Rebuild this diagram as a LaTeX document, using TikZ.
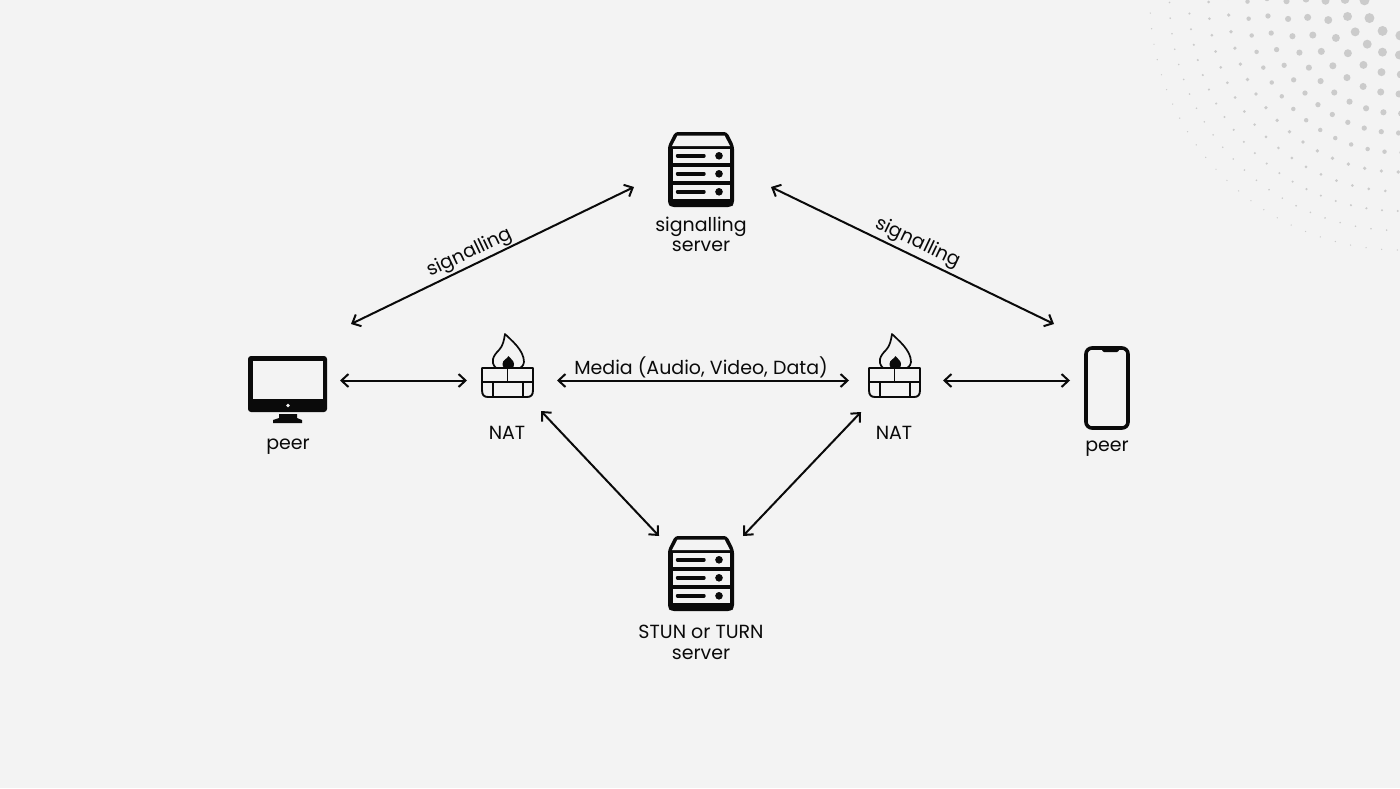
\documentclass[tikz,border=0pt]{standalone}
\usepackage{fontspec}
\setmainfont{Poppins}
\usetikzlibrary{arrows.meta}
\definecolor{bgc}{HTML}{F3F3F3}
\definecolor{dotc}{HTML}{CBCBCB}
\definecolor{inkc}{HTML}{0A0A0A}
\tikzset{
  x=1pt,y=-1pt,
  conn/.style={draw=inkc,line width=2pt,{Straight Barb[length=7pt,width=13pt,line width=2pt]}-{Straight Barb[length=7pt,width=13pt,line width=2pt]}},
  lab/.style={text=inkc,font=\fontsize{19}{21}\selectfont,inner sep=0pt,anchor=base},
  rlab/.style={text=inkc,font=\fontsize{19}{21}\selectfont,inner sep=0pt,anchor=center},
  server/.pic={
    \fill[inkc,rounded corners=3pt] (-26,-38) -- (26,-38) -- (33,-24) -- (33,34) -- (30,37) -- (-30,37) -- (-33,34) -- (-33,-24) -- cycle;
    \fill[bgc] (-23.5,-34.5) -- (23.5,-34.5) -- (29,-24) -- (-29,-24) -- cycle;
    \foreach \yy in {-21,-3,15}{
      \fill[bgc] (-28.5,\yy) rectangle (28.5,\yy+13.5);
      \draw[inkc,line width=3.4pt,line cap=round] (-23.5,\yy+6.8) -- (3,\yy+6.8);
      \fill[inkc] (18,\yy+6.8) circle[radius=3.8];
    }
  },
  natwall/.pic={
    \draw[inkc,line width=1.9pt,line join=round] (-25,-12) -- (26,-12) -- (26,10) .. controls (26,15) and (24,17) .. (20,17) -- (-19,17) .. controls (-23,17) and (-25,15) .. (-25,10) -- cycle;
    \draw[inkc,line width=1.9pt] (-25,2) -- (26,2) (0.5,-22) -- (0.5,2) (-14,2) -- (-14,17) (16,2) -- (16,17);
    \draw[inkc,line width=1.7pt,line join=round] (-11,-12) .. controls (-17,-18) and (-14,-24) .. (-8,-30) .. controls (-4,-34) and (-3,-40) .. (-2,-46) .. controls (4,-40) and (17,-30) .. (17,-18) .. controls (17,-16) and (16,-14) .. (13,-12);
    \fill[inkc] (1.5,-24) .. controls (3,-21) and (7,-20) .. (7,-16) .. controls (7,-14) and (6.5,-13) .. (5.5,-12) -- (-2.5,-12) .. controls (-4,-13) and (-4.5,-14) .. (-4.5,-16) .. controls (-4.5,-20) and (0,-21) .. cycle;
  },
}
\begin{document}
\begin{tikzpicture}
\useasboundingbox (0,0) rectangle (1400,788);
\fill[bgc] (0,0) rectangle (1400,788);
% dotted halftone corner
\begin{scope}
\clip (0,0) rectangle (1400,788);
\foreach \k in {0,...,11}{
  \pgfmathsetmacro{\rr}{250-19.5*\k}
  \pgfmathtruncatemacro{\nn}{round(\rr*1.5708/(15.5+0.3*\k))}
  \foreach \i in {0,...,\nn}{
    \pgfmathsetmacro{\aa}{90*(\i+0.0)/\nn+(mod(\k,2)-0.5)*1.2}
    \pgfmathsetmacro{\dr}{0.7+5.2*(1-\rr/250)^1.3}
    \fill[dotc] ({1400-\rr*cos(\aa)},{\rr*sin(\aa)}) circle[radius=\dr];
  }
}
\end{scope}
% icons
\pic at (701,170) {server};
\pic at (701,574) {server};
% monitor
\fill[inkc,rounded corners=3pt] (248,356) rectangle (327,412);
\fill[bgc] (252.5,360.5) rectangle (322.5,398.5);
\fill[bgc] (288,405.5) circle[radius=1.9];
\fill[inkc] (279,414) -- (297,414) -- (297,418) -- (302,420) -- (302,423) -- (273,423) -- (273,420) -- (279,418) -- cycle;
% nats
\pic at (507,380) {natwall};
\pic at (894,380) {natwall};
% phone
\draw[inkc,line width=3.6pt,rounded corners=6pt] (1086,348) rectangle (1128,428);
\fill[inkc,rounded corners=1pt] (1101,348) -- (1120,348) -- (1118,352) -- (1103,352) -- cycle;
% connector ends
\coordinate (peerLsig) at (351,324);
\coordinate (sigsrvL) at (634,187);
\coordinate (sigsrvR) at (771,187);
\coordinate (peerRsig) at (1054,324);
\coordinate (peerLnat) at (340,380.5);
\coordinate (natLpeer) at (467,380.5);
\coordinate (natLnat) at (557,380.5);
\coordinate (natRnat) at (849,380.5);
\coordinate (natRpeer) at (943,380.5);
\coordinate (peerRnat) at (1070,380.5);
\coordinate (natLstun) at (541,411);
\coordinate (stunL) at (659,536);
\coordinate (natRstun) at (861,412);
\coordinate (stunR) at (743,536);
\draw[conn] (peerLsig) -- (sigsrvL);
\draw[conn] (sigsrvR) -- (peerRsig);
\draw[conn] (peerLnat) -- (natLpeer);
\draw[conn] (natLnat) -- (natRnat);
\draw[conn] (natRpeer) -- (peerRnat);
\draw[conn] (natLstun) -- (stunL);
\draw[conn] (natRstun) -- (stunR);
% labels
\node[rlab,rotate=25.5] (lsig1) at (470,253) {signalling};
\node[rlab,rotate=-25.5] (lsig2) at (918,243) {signalling};
\node[lab] (lsrv1) at (701,231) {signalling};
\node[lab] (lsrv2) at (701,251) {server};
\node[lab] (lpeerL) at (288,449) {peer};
\node[lab] (lnatL) at (507,439) {NAT};
\node[lab] (lmedia) at (701,374) {Media (Audio, Video, Data)};
\node[lab] (lnatR) at (894,439) {NAT};
\node[lab] (lpeerR) at (1107,451) {peer};
\node[lab] (lstun1) at (701,638) {STUN or TURN};
\node[lab] (lstun2) at (701,659) {server};
\end{tikzpicture}
\end{document}
